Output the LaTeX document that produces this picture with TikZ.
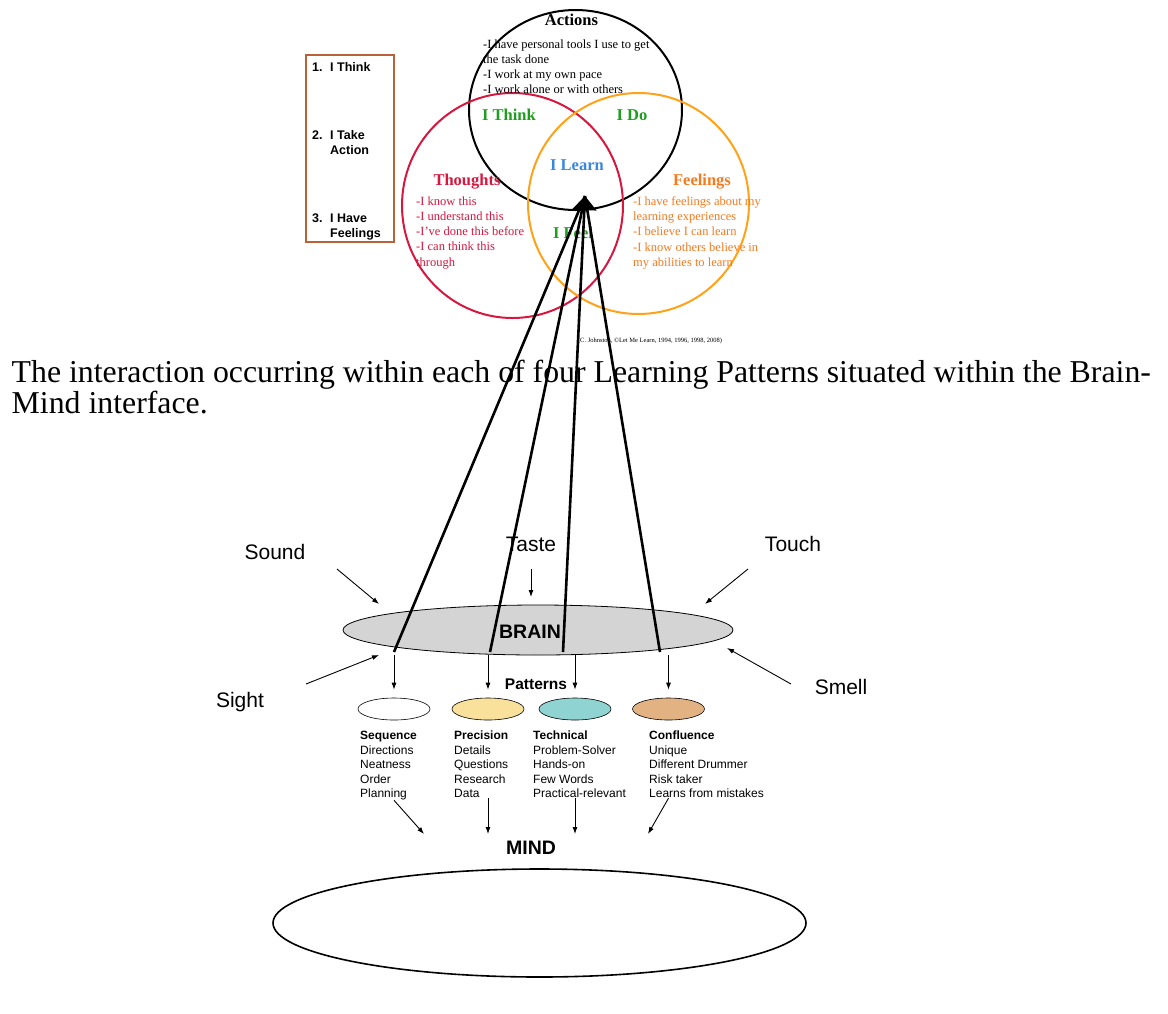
\documentclass[tikz,border=0pt]{standalone}
\usepackage{fontspec}
\setmainfont{Liberation Serif}
\setsansfont{Liberation Sans}
\usetikzlibrary{shapes.geometric, arrows.meta, positioning}

\definecolor{thoughtred}{HTML}{D6173F}
\definecolor{feelorange}{HTML}{FFA21A}
\definecolor{feeltext}{HTML}{F67A1E}
\definecolor{venngreen}{HTML}{1E9E1E}
\definecolor{learnblue}{HTML}{3A87E0}
\definecolor{boxbrown}{HTML}{B9623A}
\definecolor{precyellow}{HTML}{F9E09B}
\definecolor{techteal}{HTML}{8FD3D2}
\definecolor{conftan}{HTML}{E3B283}
\definecolor{braingray}{HTML}{D4D4D4}

\begin{document}
\begin{tikzpicture}[
    x=1pt, y=-1pt,
    >={Latex[length=7pt,width=5pt]},
    every node/.style={inner sep=0pt},
    circ/.style={draw, ellipse, line width=2pt},
    head/.style={font=\fontsize{16.5}{18}\selectfont\bfseries},
    venntext/.style={anchor=north west, align=left, font=\fontsize{12.5}{15.2}\selectfont},
    boxitem/.style={anchor=north west, align=left, font=\sffamily\bfseries\fontsize{12.5}{15}\selectfont},
    sense/.style={font=\sffamily\fontsize{21}{24}\selectfont},
    bigword/.style={font=\sffamily\bfseries\fontsize{19.5}{22}\selectfont},
    feed/.style={->, line width=0.9pt},
    bigline/.style={line width=2.6pt},
    pat/.style={draw, ellipse, line width=0.6pt, minimum width=72pt, minimum height=22pt},
    pattext/.style={anchor=north west, align=left, font=\sffamily\fontsize{12}{14.5}\selectfont}
  ]
    \useasboundingbox (0,0) rectangle (1168,1013);

    % Venn circles
    \node[circ, minimum width=213pt, minimum height=200pt] (actions) at (575.5,110) {};
    \node[circ, draw=thoughtred, minimum width=221pt, minimum height=225pt] (thoughts) at (512.5,205.5) {};
    \node[circ, draw=feelorange, minimum width=221pt, minimum height=221pt] (feelings) at (638.5,203.5) {};

    % texts in the circles
    \node[head] (actionshead) at (571.5,19.5) {Actions};
    \node[venntext] (actionslist) at (483,39.5) {-I have personal tools I use to get\\the task done\\-I work at my own pace\\-I work alone or with others};
    \node[head, text=venngreen] (ithink) at (509,115) {I Think};
    \node[head, text=venngreen] (ido) at (632,115) {I Do};
    \node[head, text=learnblue] (ilearn) at (577,165) {I Learn};
    \node[head, text=venngreen] (ifeel) at (573,233) {I Feel};
    \node[head, text=thoughtred] (thoughtshead) at (467,182) {Thoughts};
    \node[venntext, text=thoughtred] (thoughtslist) at (416,196.5) {-I know this\\-I understand this\\-I’ve done this before\\-I can think this\\through};
    \node[head, text=feeltext] (feelingshead) at (702,182) {Feelings};
    \node[venntext, text=feeltext] (feelingslist) at (633,196.5) {-I have feelings about my\\learning experiences\\-I believe I can learn\\-I know others believe in\\my abilities to learn};
    \node[font=\fontsize{6.5}{8}\selectfont] (cite) at (650,341) {(C. Johnston, ©Let Me Learn, 1994, 1996, 1998, 2008)};

    % list box on the left
    \node[draw=boxbrown, line width=1.2pt, minimum width=88pt, minimum height=187pt] (stepbox) at (350,148.5) {};
    \node[boxitem] (step1) at (312,62.5) {\makebox[18pt][l]{1.}I Think};
    \node[boxitem] (step2) at (312,130.5) {\makebox[18pt][l]{2.}I Take\\\hspace*{18pt}Action};
    \node[boxitem] (step3) at (312,213.5) {\makebox[18pt][l]{3.}I Have\\\hspace*{18pt}Feelings};

    % caption
    \node[anchor=north west, align=left, font=\fontsize{31.8}{31}\selectfont] (caption) at (11.5,360)
      {The interaction occurring within each of four Learning Patterns situated within the Brain-\\Mind interface.};

    % brain and senses
    \node[draw, ellipse, fill=braingray, line width=0.8pt, minimum width=390pt, minimum height=50pt] (brain) at (538,630) {};
    \node[bigword] (brainlabel) at (530,632) {BRAIN};

    \node[sense] (sound) at (275,552) {Sound};
    \node[sense] (taste) at (531,544) {Taste};
    \node[sense] (touch) at (793,544) {Touch};
    \node[sense] (sight) at (240,702) {Sight};
    \node[sense] (smell) at (841,687) {Smell};

    \coordinate (soundfrom) at (337,569);  \coordinate (soundto) at (379,604);
    \coordinate (tastefrom) at (531,569);  \coordinate (tasteto) at (531,597);
    \coordinate (touchfrom) at (748,569);  \coordinate (touchto) at (705,604);
    \coordinate (sightfrom) at (306,684);  \coordinate (sightto) at (379,655);
    \coordinate (smellfrom) at (791,684);  \coordinate (smellto) at (727,648);
    \foreach \s in {sound,taste,touch,sight,smell}{
      \draw[feed] (\s from) -- (\s to);
    }

    % patterns
    \node[bigword, font=\sffamily\bfseries\fontsize{15.5}{17}\selectfont] (patterns) at (536,684) {Patterns};
    \node[pat, fill=white] (seq) at (394,709) {};
    \node[pat, fill=precyellow] (prec) at (488,709) {};
    \node[pat, fill=techteal] (tech) at (575,709) {};
    \node[pat, fill=conftan] (conf) at (668.5,709) {};

    \foreach \p in {seq,prec,tech,conf}{
      \draw[feed, shorten >=8pt] (brain.south -| \p.north) -- (\p.north);
    }

    \node[pattext] (seqtext) at (360,731) {\textbf{Sequence}\\Directions\\Neatness\\Order\\Planning};
    \node[pattext] (prectext) at (454,731) {\textbf{Precision}\\Details\\Questions\\Research\\Data};
    \node[pattext] (techtext) at (533,731) {\textbf{Technical}\\Problem-Solver\\Hands-on\\Few Words\\Practical-relevant};
    \node[pattext] (conftext) at (649,731) {\textbf{Confluence}\\Unique\\Different Drummer\\Risk taker\\Learns from mistakes};

    % mind
    \node[bigword] (mindlabel) at (531,848) {MIND};
    \node[draw, ellipse, line width=1.6pt, minimum width=533pt, minimum height=108pt] (mind) at (539.5,923) {};

    \coordinate (mindin1) at (424,834);
    \coordinate (mindin4) at (648,834);
    \draw[feed] (seqtext.south -| seq.south) -- (mindin1);
    \draw[feed] (prectext.south -| prec.south) -- (prec.south |- mindin1);
    \draw[feed] (techtext.south -| tech.south) -- (tech.south |- mindin1);
    \draw[feed] (conftext.south -| conf.south) -- (mindin4);

    % lines from brain up to I Learn
    \coordinate (learnpt) at (585,196);
    \coordinate (b1) at (394,652);
    \coordinate (b2) at (490,652);
    \coordinate (b3) at (563,652);
    \coordinate (b4) at (660,652);
    \foreach \b in {b1,b2,b4}{
      \draw[bigline] (\b) -- (learnpt);
    }
    \draw[bigline, -{Triangle[length=14pt 0,width=24pt 0]}] (b3) -- (learnpt);

  \end{tikzpicture}
\end{document}
